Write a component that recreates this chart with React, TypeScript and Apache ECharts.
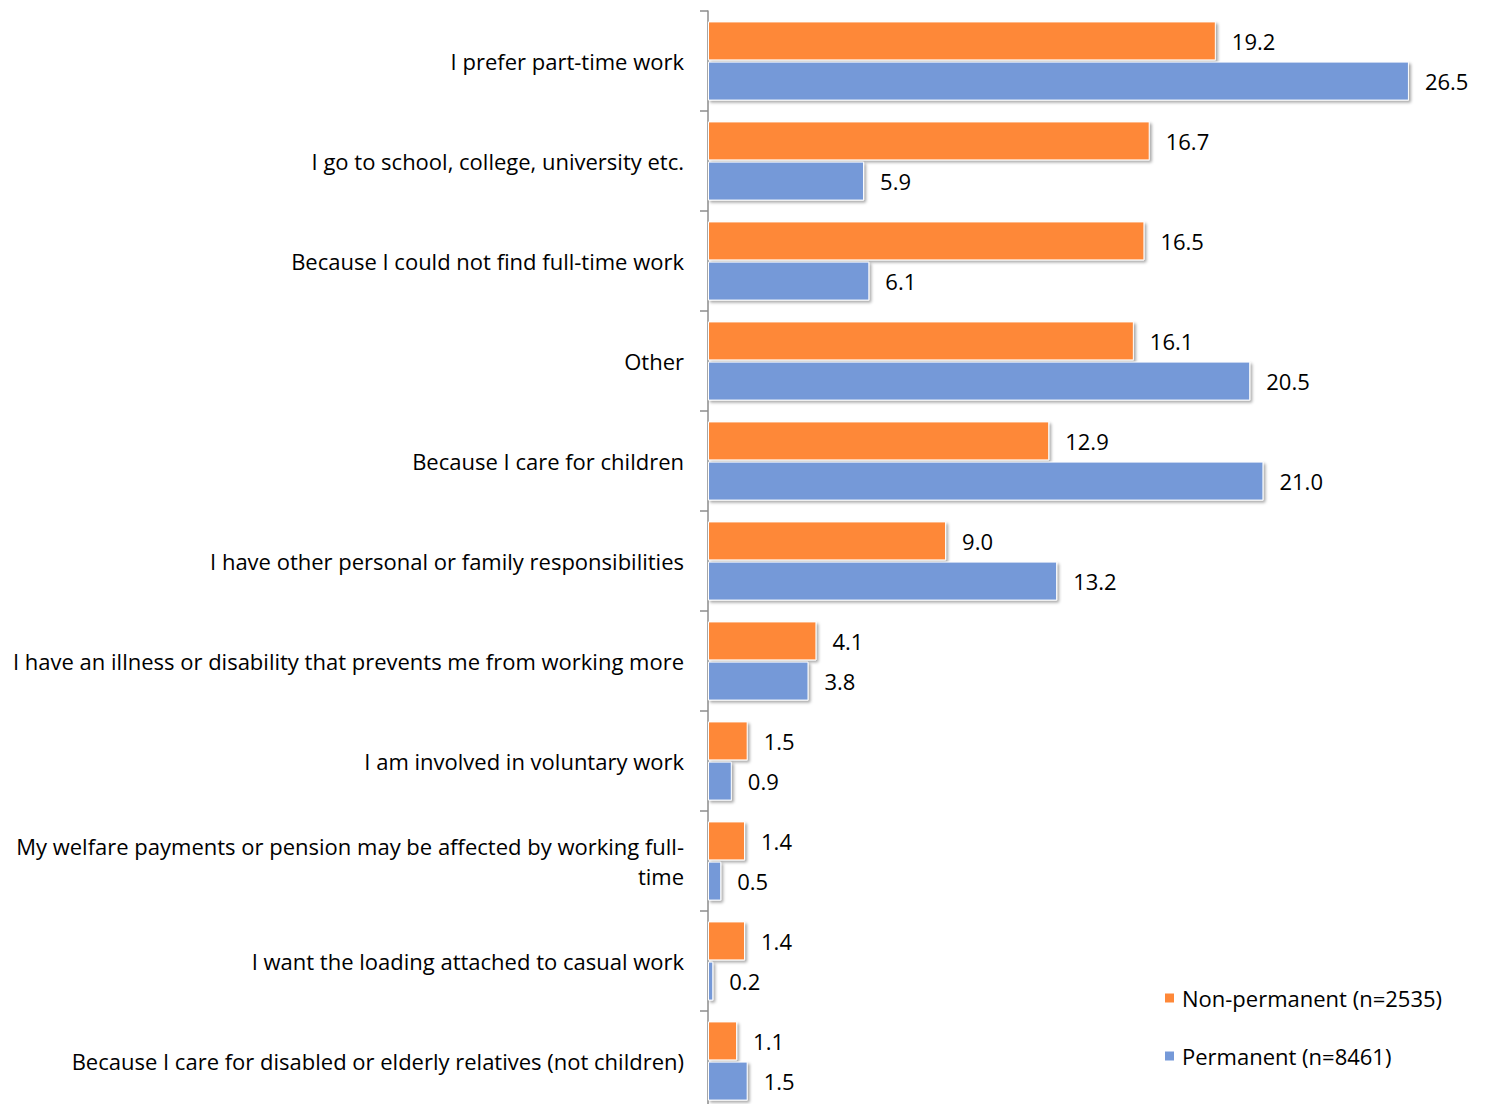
import React, { useEffect, useRef } from "react";
import * as echarts from "echarts";

const categories = [
  "I prefer part-time work",
  "I go to school, college, university etc.",
  "Because I could not find full-time work",
  "Other",
  "Because I care for children",
  "I have other personal or family responsibilities",
  "I have an illness or disability that prevents me from working more",
  "I am involved in voluntary work",
  "My welfare payments or pension may be affected by working full-\ntime",
  "I want the loading attached to casual work",
  "Because I care for disabled or elderly relatives (not children)",
];
const nonPermanent = [19.2, 16.7, 16.5, 16.1, 12.9, 9.0, 4.1, 1.5, 1.4, 1.4, 1.1];
const permanent = [26.5, 5.9, 6.1, 20.5, 21.0, 13.2, 3.8, 0.9, 0.5, 0.2, 1.5];
const seriesNames = ["Non-permanent (n=2535)", "Permanent (n=8461)"];
const colors = ["#FE8838", "#7599D8"];

const FONT = "'Open Sans', 'Noto Sans', sans-serif";

export default function App() {
  const ref = useRef<HTMLDivElement>(null);
  useEffect(() => {
    if (!ref.current) return;
    const chart = echarts.init(ref.current, null, { renderer: "svg" });
    const pxPerUnit = 26.45;
    const xMax = 28;
    const itemStyle = (c: string) => ({
      color: c,
      borderColor: "#ffffff",
      borderWidth: 1,
      shadowColor: "rgba(0,0,0,0.35)",
      shadowBlur: 3,
      shadowOffsetX: 2,
      shadowOffsetY: 2,
    });
    const label = {
      show: true,
      position: "right",
      distance: 16,
      color: "#000",
      fontSize: 22,
      fontFamily: FONT,
      formatter: (p: any) => Number(p.value).toFixed(1),
    };
    chart.setOption({
      animation: false,
      textStyle: { fontFamily: FONT },
      grid: { left: 708, top: 11, width: pxPerUnit * xMax, height: 1100 },
      xAxis: {
        type: "value",
        min: 0,
        max: xMax,
        show: false,
      },
      yAxis: {
        type: "category",
        inverse: true,
        data: categories,
        axisLine: { show: true, lineStyle: { color: "#8c8c8c", width: 1.5 } },
        axisTick: { show: true, length: 8, lineStyle: { color: "#8c8c8c", width: 1.5 } },
        axisLabel: {
          margin: 24,
          color: "#000",
          fontSize: 22,
          fontFamily: FONT,
          align: "right",
          lineHeight: 30,
        },
        splitLine: { show: false },
      },
      legend: {
        orient: "vertical",
        left: 1158,
        top: 982,
        itemWidth: 11,
        itemHeight: 11,
        itemGap: 36,
        icon: "rect",
        textStyle: { fontSize: 22, color: "#000", fontFamily: FONT, padding: [0, 0, 0, 2] },
        data: seriesNames,
      },
      series: [
        {
          name: seriesNames[0],
          type: "bar",
          data: nonPermanent,
          barWidth: 39,
          barGap: "3%",
          itemStyle: itemStyle(colors[0]),
          label,
        },
        {
          name: seriesNames[1],
          type: "bar",
          data: permanent,
          barWidth: 39,
          barGap: "3%",
          itemStyle: itemStyle(colors[1]),
          label,
        },
      ],
    });
    return () => chart.dispose();
  }, []);
  return (
    <div
      style={{
        position: "absolute",
        left: 0,
        top: 0,
        width: 1485,
        height: 1104,
        overflow: "hidden",
        background: "#fff",
      }}
    >
      <div ref={ref} style={{ width: 1485, height: 1112 }} />
    </div>
  );
}
